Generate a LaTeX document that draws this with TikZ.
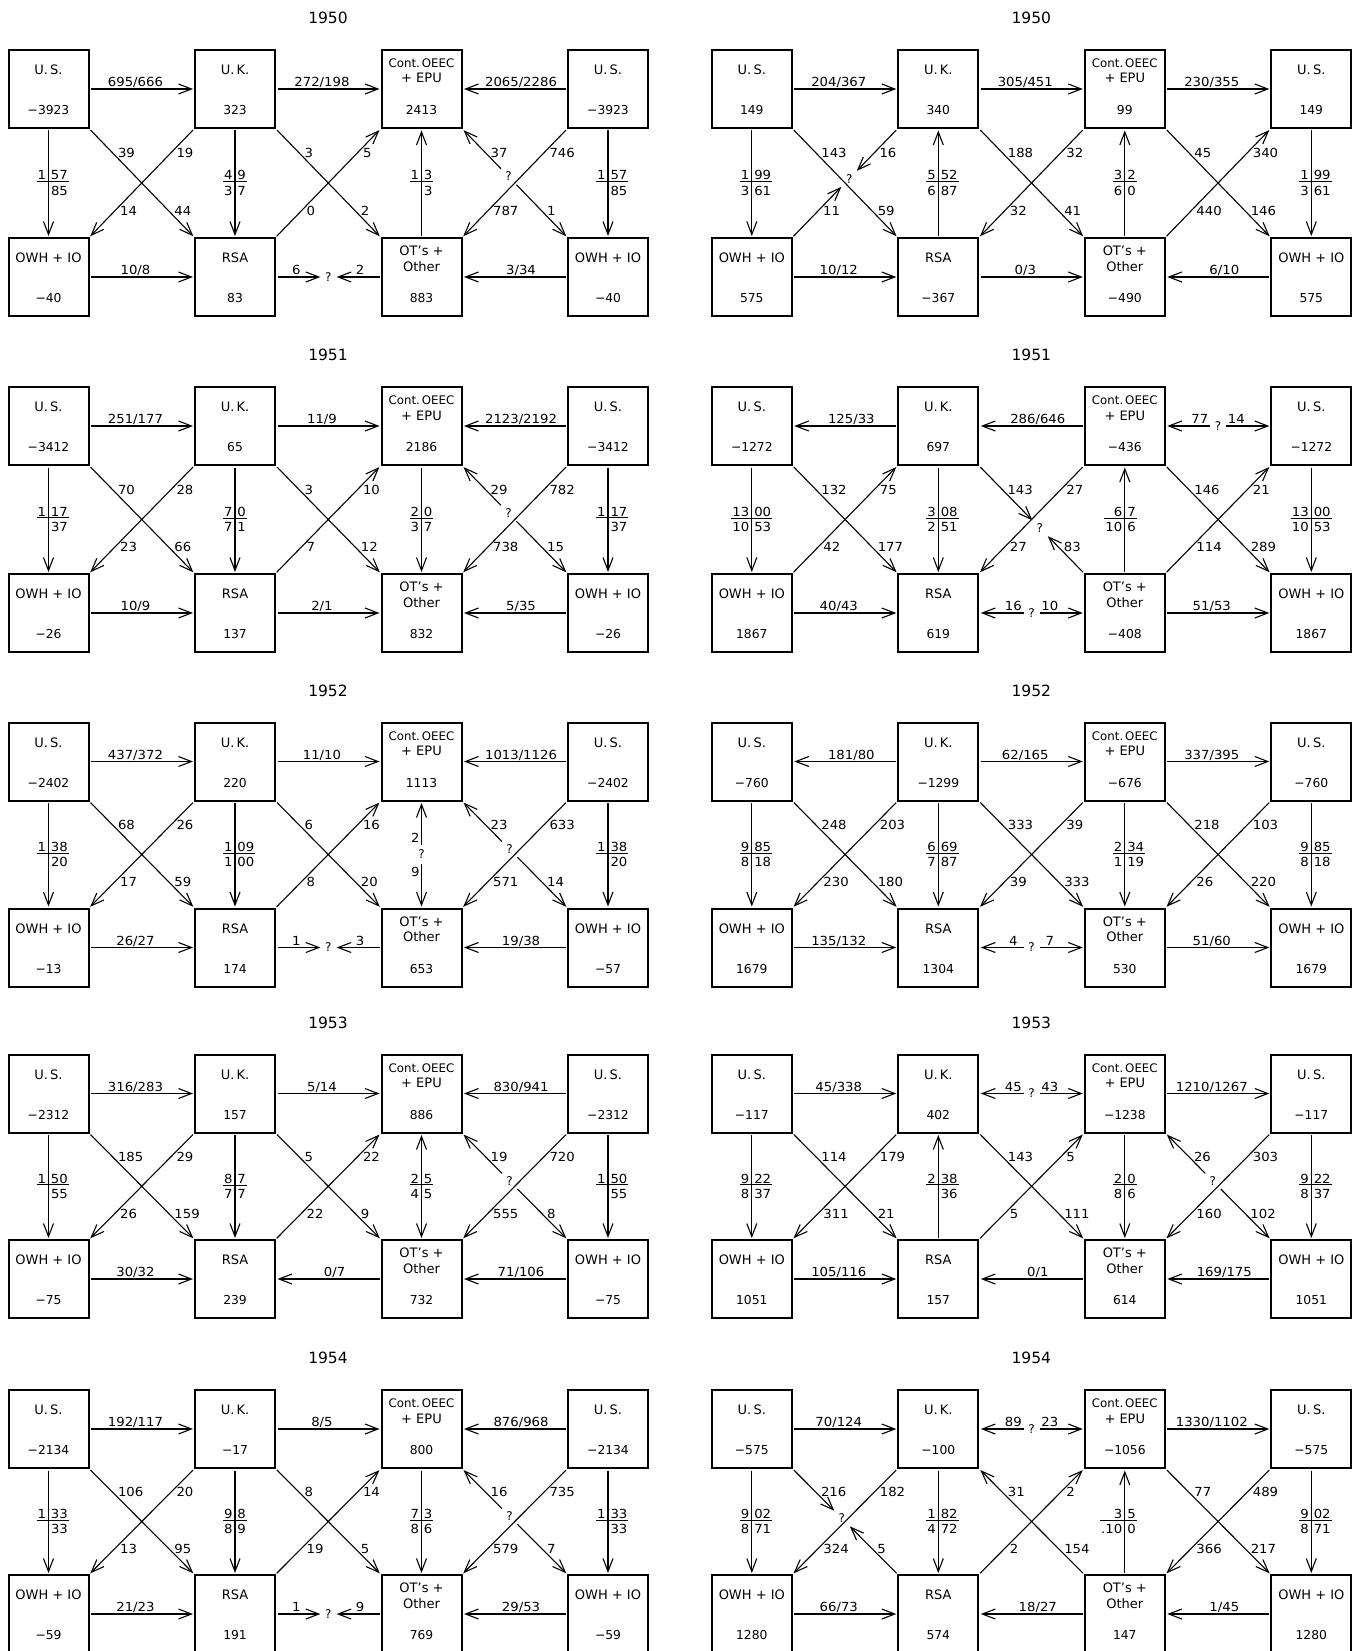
\documentclass[tikz,border=0pt]{standalone}
\usepackage{fontspec}
\setmainfont{DejaVu Sans}
\newfontfamily\labfam[FakeStretch=1.06]{DejaVu Sans}
\usetikzlibrary{arrows.meta,calc}
\newcommand\labf{\labfam\fontsize{12.5}{14}\selectfont}
\newcommand\btf{\fontsize{13}{15}\selectfont}
\newcommand\bnf{\fontsize{12.3}{14}\selectfont}
\newcommand\contf{\fontsize{11.8}{14}\selectfont}
\newcommand\ttlf{\fontsize{15.5}{18}\selectfont}
\newcommand\qf{\fontsize{12}{13}\selectfont}
\newlength\myfA \newlength\myfB \newlength\myfT
% fraction split by the arrow line: num-left, num-right, den-left, den-right
\newcommand\VFR[4]{%
 \settowidth\myfA{#1}\settowidth\myfT{#3}\ifdim\myfT>\myfA \myfA=\myfT\fi
 \settowidth\myfB{#2}\settowidth\myfT{#4}\ifdim\myfT>\myfB \myfB=\myfT\fi
 \advance\myfA by 3.5pt \advance\myfB by 3.5pt
 \vbox{\offinterlineskip
  \hbox to 0pt{\llap{#1\kern2.5pt}\rlap{\kern2.5pt#2}\vrule height9pt depth0pt width0pt}%
  \kern1.2pt
  \hbox to 0pt{\llap{\vrule width\myfA height.9pt depth0pt}\rlap{\vrule width\myfB height.9pt depth0pt}}%
  \kern4pt
  \hbox to 0pt{\llap{#3\kern2.5pt}\rlap{\kern2.5pt#4}\vrule height9pt depth0pt width0pt}}}
% box with texts
\newcommand\BX[6]{%
 \node[bx] (#1) at (#2,#3) {};
 \ifx\relax#5\relax
  \node[bt,anchor=base] (#1a) at ($(#1.north)+(0,25.5)$) {#4};
 \else
  \node[bt,anchor=base] (#1a) at ($(#1.north)+(0,18.5)$) {#4};
  \node[bt,anchor=base] (#1b) at ($(#1.north)+(0,34)$) {#5};
 \fi
 \node[bn,anchor=base] (#1n) at ($(#1.south)+(0,-14.5)$) {#6};}
\newcommand\TR[7]{%
 \BX{#1US1}{#2+48.5}{#3}{U.\,S.}{}{#5}%
 \BX{#1UK}{#2+235}{#3}{U.\,K.}{}{#6}%
 \BX{#1CO}{#2+421.5}{#3}{{\contf Cont.\,OEEC}}{+ EPU}{#7}%
 \BX{#1US2}{#2+608}{#3}{U.\,S.}{}{#5}%
 \node[ttl] (#1T) at (#2+328,#3-71) {#4};}
\newcommand\BR[7]{%
 \BX{#1OW1}{#2+48.5}{#3}{OWH + IO}{}{#4}%
 \BX{#1RS}{#2+235}{#3}{RSA}{}{#5}%
 \BX{#1OT}{#2+421.5}{#3}{OT's +}{Other}{#6}%
 \BX{#1OW2}{#2+608}{#3}{OWH + IO}{}{#7}}
% horizontal connector
\newcommand\HH[5]{\draw[ln,#3] (#1.east) -- (#2.west) node[hl,pos=#5]{#4};}
% horizontal split by ?
\newcommand\HQ[9]{%
 \node[q] (#3) at ($(#1.east)!.5!(#2.west)$) {?};
 \draw[ln,#4] (#1.east) -- (#3) node[hl,pos=#8]{#6};
 \draw[ln,#5] (#3) -- (#2.west) node[hl,pos=#9]{#7};}
% vertical connector with fraction
\newcommand\VV[7]{\draw[ln,#3] (#1.south) -- (#2.north) node[fr,pos=.5]{\VFR{#4}{#5}{#6}{#7}};}
% diagonals drawn top to bottom
\newcommand\DD[5]{\draw[ln,#1] (#2.south east) -- (#3.north west) node[dl,pos=.22]{#4} node[dl,pos=.76]{#5};}
\newcommand\DU[5]{\draw[ln,#1] (#2.south west) -- (#3.north east) node[dl,pos=.22]{#4} node[dl,pos=.76]{#5};}
% diagonal split by ?
\newcommand\DQ[8]{%
 \path (#1) -- (#2) node[q,pos=#4] (#3) {?} node[dl,pos=.22]{#7} node[dl,pos=.76]{#8};
 \draw[ln,#5] (#1) -- (#3);
 \draw[ln,#6] (#3) -- (#2);}
\begin{document}
\begin{tikzpicture}[x=1pt,y=-1pt,
 >={Straight Barb[length=13pt,width=10pt]},
 bx/.style={draw,line width=2pt,minimum width=80pt,minimum height=78pt,inner sep=0pt},
 bt/.style={font=\btf,inner sep=0pt},
 bn/.style={font=\bnf,inner sep=0pt},
 ttl/.style={font=\ttlf,inner sep=0pt},
 ln/.style={line width=1.1pt,shorten >=1pt,shorten <=1.5pt},
 hl/.style={font=\labf,anchor=south,inner sep=1.8pt,text depth=0pt},
 dl/.style={font=\labf,anchor=west,inner sep=0pt,xshift=5pt},
 vl/.style={font=\labf,anchor=east,inner sep=1.5pt},
 q/.style={font=\qf,inner sep=3.5pt},
 fr/.style={font=\labf,inner sep=0pt}]
\fill[white] (0,0) rectangle (1361,1651);
\clip (0,0) rectangle (1361,1651);

% ================= 1950 left
\TR{a}{0}{89}{1950}{−3923}{323}{2413}
\BR{a}{0}{277}{−40}{83}{883}{−40}
\HH{aUS1}{aUK}{->}{695/666}{.44}
\HH{aUK}{aCO}{->}{272/198}{.44}
\HH{aCO}{aUS2}{<-}{2065/2286}{.56}
\HH{aOW1}{aRS}{->}{10/8}{.44}
\HQ{aRS}{aOT}{aQe}{->}{<-}{6}{2}{.45}{.55}
\HH{aOT}{aOW2}{<-}{3/34}{.56}
\VV{aUS1}{aOW1}{->}{1}{57}{}{85}
\VV{aUK}{aRS}{->}{4}{9}{3}{7}
\VV{aCO}{aOT}{<-}{1}{3}{}{3}
\VV{aUS2}{aOW2}{->}{1}{57}{}{85}
\DD{->}{aUS1}{aRS}{39}{44}
\DU{->}{aUK}{aOW1}{19}{14}
\DD{->}{aUK}{aOT}{3}{2}
\DU{<-}{aCO}{aRS}{5}{0}
\DQ{aCO.south east}{aOW2.north west}{aQg}{.44}{<-}{->}{37}{1}
\DU{->}{aUS2}{aOT}{746}{787}

% ================= 1950 right
\TR{b}{703.3}{89}{1950}{149}{340}{99}
\BR{b}{703.3}{277}{575}{−367}{−490}{575}
\HH{bUS1}{bUK}{->}{204/367}{.44}
\HH{bUK}{bCO}{->}{305/451}{.44}
\HH{bCO}{bUS2}{->}{230/355}{.44}
\HH{bOW1}{bRS}{->}{10/12}{.44}
\HH{bRS}{bOT}{->}{0/3}{.44}
\HH{bOT}{bOW2}{<-}{6/10}{.56}
\VV{bUS1}{bOW1}{->}{1}{99}{3}{61}
\VV{bUK}{bRS}{<-}{5}{52}{6}{87}
\VV{bCO}{bOT}{<-}{3}{2}{6}{0}
\VV{bUS2}{bOW2}{->}{1}{99}{3}{61}
\DD{->}{bUS1}{bRS}{143}{59}
\DQ{bUK.south west}{bOW1.north east}{bQa}{.46}{->}{<-}{16}{11}
\DD{->}{bUK}{bOT}{188}{41}
\DU{->}{bCO}{bRS}{32}{32}
\DD{->}{bCO}{bOW2}{45}{146}
\DU{<-}{bUS2}{bOT}{340}{440}

% ================= 1951 left
\TR{c}{0}{426}{1951}{−3412}{65}{2186}
\BR{c}{0}{613}{−26}{137}{832}{−26}
\HH{cUS1}{cUK}{->}{251/177}{.44}
\HH{cUK}{cCO}{->}{11/9}{.44}
\HH{cCO}{cUS2}{<-}{2123/2192}{.56}
\HH{cOW1}{cRS}{->}{10/9}{.44}
\HH{cRS}{cOT}{->}{2/1}{.44}
\HH{cOT}{cOW2}{<-}{5/35}{.56}
\VV{cUS1}{cOW1}{->}{1}{17}{}{37}
\VV{cUK}{cRS}{->}{7}{0}{7}{1}
\VV{cCO}{cOT}{->}{2}{0}{3}{7}
\VV{cUS2}{cOW2}{->}{1}{17}{}{37}
\DD{->}{cUS1}{cRS}{70}{66}
\DU{->}{cUK}{cOW1}{28}{23}
\DD{->}{cUK}{cOT}{3}{12}
\DU{<-}{cCO}{cRS}{10}{7}
\DQ{cCO.south east}{cOW2.north west}{cQg}{.44}{<-}{->}{29}{15}
\DU{->}{cUS2}{cOT}{782}{738}

% ================= 1951 right
\TR{d}{703.3}{426}{1951}{−1272}{697}{−436}
\BR{d}{703.3}{613}{1867}{619}{−408}{1867}
\HH{dUS1}{dUK}{<-}{125/33}{.56}
\HH{dUK}{dCO}{<-}{286/646}{.56}
\HQ{dCO}{dUS2}{dQc}{<-}{->}{77}{14}{.75}{.25}
\HH{dOW1}{dRS}{->}{40/43}{.44}
\HQ{dRS}{dOT}{dQe}{<-}{->}{16}{10}{.75}{.25}
\HH{dOT}{dOW2}{->}{51/53}{.44}
\VV{dUS1}{dOW1}{->}{13}{00}{10}{53}
\VV{dUK}{dRS}{->}{3}{08}{2}{51}
\VV{dCO}{dOT}{<-}{6}{7}{10}{6}
\VV{dUS2}{dOW2}{->}{13}{00}{10}{53}
\DD{->}{dUS1}{dRS}{132}{177}
\DU{<-}{dUK}{dOW1}{75}{42}
\DQ{dUK.south east}{dOT.north west}{dQg}{.58}{->}{<-}{143}{83}
\DU{->}{dCO}{dRS}{27}{27}
\DD{->}{dCO}{dOW2}{146}{289}
\DU{<-}{dUS2}{dOT}{21}{114}

% ================= 1952 left
\TR{e}{0}{761.5}{1952}{−2402}{220}{1113}
\BR{e}{0}{947.5}{−13}{174}{653}{−57}
\HH{eUS1}{eUK}{->}{437/372}{.44}
\HH{eUK}{eCO}{->}{11/10}{.44}
\HH{eCO}{eUS2}{<-}{1013/1126}{.56}
\HH{eOW1}{eRS}{->}{26/27}{.44}
\HQ{eRS}{eOT}{eQe}{->}{<-}{1}{3}{.45}{.55}
\HH{eOT}{eOW2}{<-}{19/38}{.56}
\VV{eUS1}{eOW1}{->}{1}{38}{}{20}
\VV{eUK}{eRS}{->}{1}{09}{1}{00}
\node[q] (eQv) at ($(eCO.south)!.5!(eOT.north)$) {?};
\draw[ln,<-] (eCO.south) -- (eQv) node[vl,pos=.8]{2};
\draw[ln,->] (eQv) -- (eOT.north) node[vl,pos=.2]{9};
\VV{eUS2}{eOW2}{->}{1}{38}{}{20}
\DD{->}{eUS1}{eRS}{68}{59}
\DU{->}{eUK}{eOW1}{26}{17}
\DD{->}{eUK}{eOT}{6}{20}
\DU{<-}{eCO}{eRS}{16}{8}
\DQ{eCO.south east}{eOW2.north west}{eQg}{.45}{<-}{->}{23}{14}
\DU{->}{eUS2}{eOT}{633}{571}

% ================= 1952 right
\TR{f}{703.3}{761.5}{1952}{−760}{−1299}{−676}
\BR{f}{703.3}{947.5}{1679}{1304}{530}{1679}
\HH{fUS1}{fUK}{<-}{181/80}{.56}
\HH{fUK}{fCO}{->}{62/165}{.44}
\HH{fCO}{fUS2}{->}{337/395}{.44}
\HH{fOW1}{fRS}{->}{135/132}{.44}
\HQ{fRS}{fOT}{fQe}{<-}{->}{4}{7}{.75}{.25}
\HH{fOT}{fOW2}{->}{51/60}{.44}
\VV{fUS1}{fOW1}{->}{9}{85}{8}{18}
\VV{fUK}{fRS}{->}{6}{69}{7}{87}
\VV{fCO}{fOT}{->}{2}{34}{1}{19}
\VV{fUS2}{fOW2}{->}{9}{85}{8}{18}
\DD{->}{fUS1}{fRS}{248}{180}
\DU{->}{fUK}{fOW1}{203}{230}
\DD{->}{fUK}{fOT}{333}{333}
\DU{->}{fCO}{fRS}{39}{39}
\DD{->}{fCO}{fOW2}{218}{220}
\DU{->}{fUS2}{fOT}{103}{26}

% ================= 1953 left
\TR{g}{0}{1093.5}{1953}{−2312}{157}{886}
\BR{g}{0}{1279}{−75}{239}{732}{−75}
\HH{gUS1}{gUK}{->}{316/283}{.44}
\HH{gUK}{gCO}{->}{5/14}{.44}
\HH{gCO}{gUS2}{<-}{830/941}{.56}
\HH{gOW1}{gRS}{->}{30/32}{.44}
\HH{gRS}{gOT}{<-}{0/7}{.56}
\HH{gOT}{gOW2}{<-}{71/106}{.56}
\VV{gUS1}{gOW1}{->}{1}{50}{}{55}
\VV{gUK}{gRS}{->}{8}{7}{7}{7}
\VV{gCO}{gOT}{<->}{2}{5}{4}{5}
\VV{gUS2}{gOW2}{->}{1}{50}{}{55}
\DD{->}{gUS1}{gRS}{185}{159}
\DU{->}{gUK}{gOW1}{29}{26}
\DD{->}{gUK}{gOT}{5}{9}
\DU{<-}{gCO}{gRS}{22}{22}
\DQ{gCO.south east}{gOW2.north west}{gQg}{.45}{<-}{->}{19}{8}
\DU{->}{gUS2}{gOT}{720}{555}

% ================= 1953 right
\TR{h}{703.3}{1093.5}{1953}{−117}{402}{−1238}
\BR{h}{703.3}{1279}{1051}{157}{614}{1051}
\HH{hUS1}{hUK}{->}{45/338}{.44}
\HQ{hUK}{hCO}{hQb}{<-}{->}{45}{43}{.75}{.25}
\HH{hCO}{hUS2}{->}{1210/1267}{.44}
\HH{hOW1}{hRS}{->}{105/116}{.44}
\HH{hRS}{hOT}{<-}{0/1}{.56}
\HH{hOT}{hOW2}{<-}{169/175}{.56}
\VV{hUS1}{hOW1}{->}{9}{22}{8}{37}
\VV{hUK}{hRS}{<-}{2}{38}{}{36}
\VV{hCO}{hOT}{->}{2}{0}{8}{6}
\VV{hUS2}{hOW2}{->}{9}{22}{8}{37}
\DD{->}{hUS1}{hRS}{114}{21}
\DU{->}{hUK}{hOW1}{179}{311}
\DD{->}{hUK}{hOT}{143}{111}
\DU{<-}{hCO}{hRS}{5}{5}
\DQ{hCO.south east}{hOW2.north west}{hQg}{.45}{<-}{->}{26}{102}
\DU{->}{hUS2}{hOT}{303}{160}

% ================= 1954 left
\TR{i}{0}{1429}{1954}{−2134}{−17}{800}
\BR{i}{0}{1614}{−59}{191}{769}{−59}
\HH{iUS1}{iUK}{->}{192/117}{.44}
\HH{iUK}{iCO}{->}{8/5}{.44}
\HH{iCO}{iUS2}{<-}{876/968}{.56}
\HH{iOW1}{iRS}{->}{21/23}{.44}
\HQ{iRS}{iOT}{iQe}{->}{<-}{1}{9}{.45}{.55}
\HH{iOT}{iOW2}{<-}{29/53}{.56}
\VV{iUS1}{iOW1}{->}{1}{33}{}{33}
\VV{iUK}{iRS}{->}{9}{8}{8}{9}
\VV{iCO}{iOT}{->}{7}{3}{8}{6}
\VV{iUS2}{iOW2}{->}{1}{33}{}{33}
\DD{->}{iUS1}{iRS}{106}{95}
\DU{->}{iUK}{iOW1}{20}{13}
\DD{->}{iUK}{iOT}{8}{5}
\DU{<-}{iCO}{iRS}{14}{19}
\DQ{iCO.south east}{iOW2.north west}{iQg}{.45}{<-}{->}{16}{7}
\DU{->}{iUS2}{iOT}{735}{579}

% ================= 1954 right
\TR{j}{703.3}{1429}{1954}{−575}{−100}{−1056}
\BR{j}{703.3}{1614}{1280}{574}{147}{1280}
\HH{jUS1}{jUK}{->}{70/124}{.44}
\HQ{jUK}{jCO}{jQb}{<-}{->}{89}{23}{.75}{.25}
\HH{jCO}{jUS2}{->}{1330/1102}{.44}
\HH{jOW1}{jRS}{->}{66/73}{.44}
\HH{jRS}{jOT}{<-}{18/27}{.56}
\HH{jOT}{jOW2}{<-}{1/45}{.56}
\VV{jUS1}{jOW1}{->}{9}{02}{8}{71}
\VV{jUK}{jRS}{->}{1}{82}{4}{72}
\VV{jCO}{jOT}{<-}{3}{5}{.10}{0}
\VV{jUS2}{jOW2}{->}{9}{02}{8}{71}
\DQ{jUS1.south east}{jRS.north west}{jQa}{.47}{->}{<-}{216}{5}
\DU{->}{jUK}{jOW1}{182}{324}
\DD{<-}{jUK}{jOT}{31}{154}
\DU{<-}{jCO}{jRS}{2}{2}
\DD{->}{jCO}{jOW2}{77}{217}
\DU{->}{jUS2}{jOT}{489}{366}
\end{tikzpicture}
\end{document}
